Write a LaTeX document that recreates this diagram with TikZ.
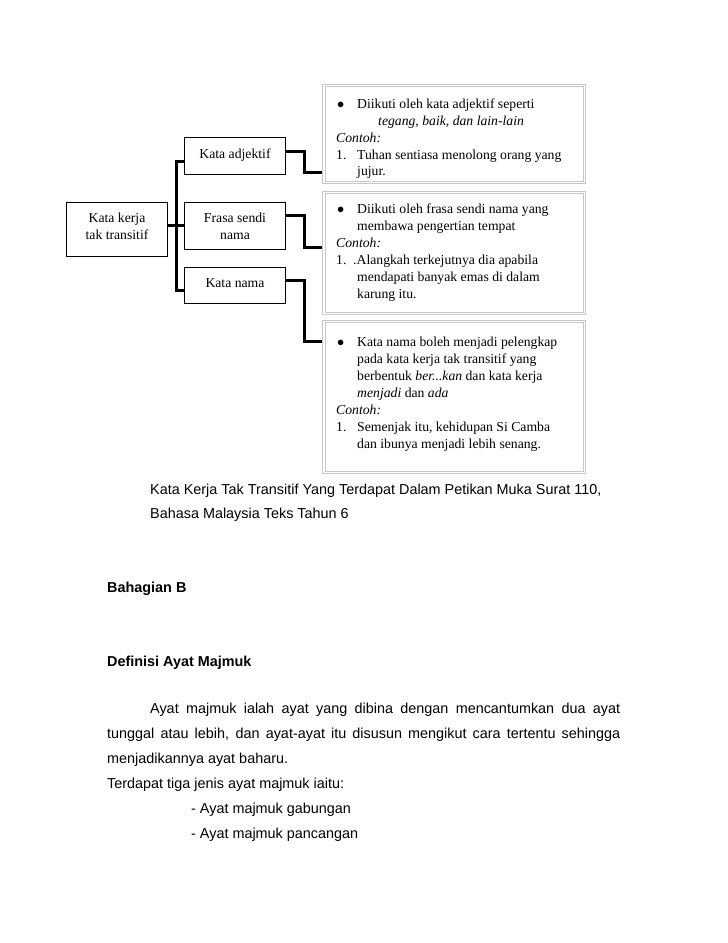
\documentclass[tikz,border=0pt]{standalone}
\usepackage{fontspec}
\setmainfont{Liberation Serif}
\newfontfamily\arialf{Liberation Sans}
\begin{document}
\begin{tikzpicture}[x=1pt,y=-1pt,
  lbox/.style={draw=black,line width=0.8pt,fill=white,inner sep=0pt},
  ltxt/.style={font=\fontsize{13.7}{17}\selectfont,align=center},
  rline/.style={anchor=base west,inner sep=0pt,font=\fontsize{13.7}{17}\selectfont},
  bus/.style={line width=3pt,line cap=butt,line join=miter},
  gline/.style={draw=black!22,line width=0.7pt},
  sline/.style={anchor=base west,inner sep=0pt,font=\arialf\fontsize{14.4}{17}\selectfont},
]
\useasboundingbox (0,0) rectangle (728,943);
\fill[white] (0,0) rectangle (728,943);

% left boxes
\draw[lbox] (66.7,202) rectangle (167,256);
\node[ltxt] (kk) at (117,226.5) {Kata kerja\\tak transitif};
\draw[lbox] (184,137) rectangle (285,174);
\node[ltxt] (ka) at (235,155) {Kata adjektif};
\draw[lbox] (184,202) rectangle (285,249);
\node[ltxt] (fs) at (235,226) {Frasa sendi\\nama};
\draw[lbox] (184,267) rectangle (285,303);
\node[ltxt] (kn) at (235,283) {Kata nama};

\coordinate (kkE) at (167,225);
\coordinate (kaW) at (184,161);
\coordinate (fsW) at (184,225);
\coordinate (knW) at (184,290);

% bus
\draw[bus] (176,161) -- (176,290);
\draw[bus] (kkE) -- (fsW);
\draw[bus] (174.5,161) -- (kaW);
\draw[bus] (174.5,290) -- (knW);

% right boxes (double gray)
\foreach \a/\b in {85/183, 192/314, 321/473}{
  \draw[gline] (322.7,\a-0.7) rectangle (585.3,\b+0.7);
  \draw[gline] (325,\a+1.6) rectangle (583,\b-1.6);
}

% connectors to right boxes
\coordinate (r1) at (322,172);
\coordinate (r2) at (322,247);
\coordinate (r3) at (322,341);
\draw[bus] (285,151) -- (304,151) -- (304,172) -- (r1);
\draw[bus] (285,215) -- (304,215) -- (304,247) -- (r2);
\draw[bus] (285,280) -- (304,280) -- (304,341) -- (r3);

% box 1 text
\node[rline] (b1a) at (337,108) {$\bullet$};
\node[rline] (b1b) at (357,108) {Diikuti oleh kata adjektif seperti};
\node[rline] (b1c) at (378,125) {\itshape tegang, baik, dan lain-lain};
\node[rline] (b1d) at (336,142) {\itshape Contoh:};
\node[rline] (b1e) at (336,159) {1.};
\node[rline] (b1f) at (357,159) {Tuhan sentiasa menolong orang yang};
\node[rline] (b1g) at (357,175) {jujur.};

% box 2 text
\node[rline] (b2a) at (337,213) {$\bullet$};
\node[rline] (b2b) at (357,213) {Diikuti oleh frasa sendi nama yang};
\node[rline] (b2c) at (357,230) {membawa pengertian tempat};
\node[rline] (b2d) at (336,247) {\itshape Contoh:};
\node[rline] (b2e) at (336,264) {1.};
\node[rline] (b2f) at (353,264) {.Alangkah terkejutnya dia apabila};
\node[rline] (b2g) at (357,281) {mendapati banyak emas di dalam};
\node[rline] (b2h) at (357,298) {karung itu.};

% box 3 text
\node[rline] (b3a) at (337,346) {$\bullet$};
\node[rline] (b3b) at (357,346) {Kata nama boleh menjadi pelengkap};
\node[rline] (b3c) at (357,363) {pada kata kerja tak transitif yang};
\node[rline] (b3d) at (357,380) {berbentuk \textit{ber...kan} dan kata kerja};
\node[rline] (b3e) at (357,397) {\textit{menjadi} dan \textit{ada}};
\node[rline] (b3f) at (336,414) {\itshape Contoh:};
\node[rline] (b3g) at (336,431) {1.};
\node[rline] (b3h) at (357,431) {Semenjak itu, kehidupan Si Camba};
\node[rline] (b3i) at (357,448) {dan ibunya menjadi lebih senang.};

% caption and body text
\node[sline] (c1) at (150,494) {Kata Kerja Tak Transitif Yang Terdapat Dalam Petikan Muka Surat 110,};
\node[sline] (c2) at (150,518) {Bahasa Malaysia Teks Tahun 6};
\node[sline] (h1) at (107,592) {\bfseries Bahagian B};
\node[sline] (h2) at (107,666) {\bfseries Definisi Ayat Majmuk};
\node[anchor=north west,inner sep=0pt,text width=513pt,align=justify,
      font=\arialf\fontsize{14.4}{24.8}\selectfont] (par) at (107,703)
  {\hyphenpenalty=10000\baselineskip=24.8pt\hspace*{43pt}Ayat majmuk ialah ayat yang dibina dengan mencantumkan dua ayat\linebreak tunggal atau lebih, dan ayat-ayat itu disusun mengikut cara tertentu sehingga\linebreak menjadikannya ayat baharu.\par
  \vspace*{0.3pt}Terdapat tiga jenis ayat majmuk iaitu:\par
  \vspace*{0.3pt}\hspace*{84pt}- Ayat majmuk gabungan\par
  \vspace*{0.3pt}\hspace*{84pt}- Ayat majmuk pancangan\par};
\end{tikzpicture}
\end{document}
